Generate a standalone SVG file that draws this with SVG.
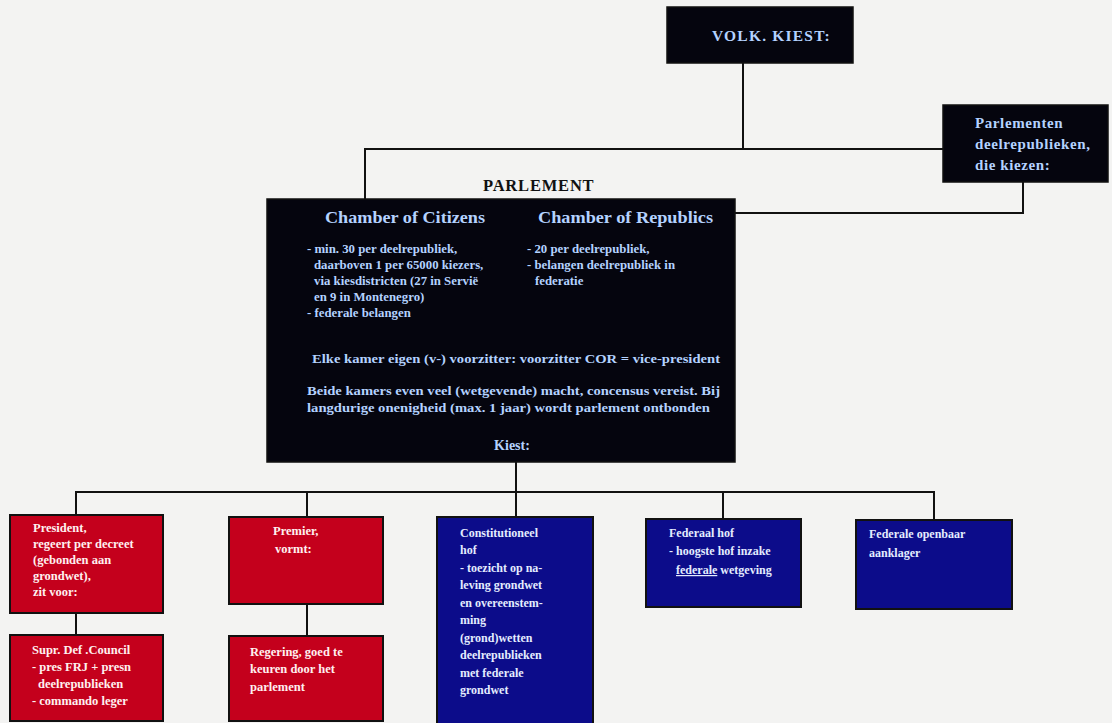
<svg xmlns="http://www.w3.org/2000/svg" width="1112" height="723" viewBox="0 0 1112 723">
<style>
.bg{fill:#f3f3f2}
.blk{fill:#05050e;stroke:#111;stroke-width:1.5}
.red{fill:#c4001c;stroke:#111;stroke-width:2}
.blu{fill:#0c0c8a;stroke:#111;stroke-width:2}
.ln{fill:none;stroke:#111;stroke-width:2}
text{font-family:"Liberation Serif","Times New Roman",serif;font-weight:bold}
.tb{fill:#b4d2ff}
.tr{fill:#fff0f0;font-size:12.5px}
.tu{fill:#e4ecff;font-size:12px}
.hd{font-size:16.5px}
.sm{font-size:12.8px}
</style>
<rect class="bg" x="0" y="0" width="1112" height="723"/>
<g id="connectors">
<line class="ln" x1="743" y1="63" x2="743" y2="149"/>
<polyline class="ln" points="365,200 365,149 943,149"/>
<polyline class="ln" points="1023,182 1023,213 735,213"/>
<line class="ln" x1="516" y1="462" x2="516" y2="518"/>
<polyline class="ln" points="76,515 76,492 934,492 934,520"/>
<line class="ln" x1="307" y1="492" x2="307" y2="517"/>
<line class="ln" x1="723" y1="492" x2="723" y2="519"/>
<line class="ln" x1="76" y1="613" x2="76" y2="635"/>
<line class="ln" x1="307" y1="604" x2="307" y2="636"/>
</g>
<g id="volk">
<rect class="blk" x="667" y="7" width="186" height="56"/>
<text class="tb" x="712" y="41" font-size="15.5" letter-spacing="1.2">VOLK. KIEST:</text>
</g>
<g id="parlementen-deelrepublieken">
<rect class="blk" x="943" y="105" width="165" height="77"/>
<text class="tb" font-size="15" letter-spacing="0.6"><tspan x="975" y="128">Parlementen</tspan><tspan x="975" y="149">deelrepublieken,</tspan><tspan x="975" y="170">die kiezen:</tspan></text>
</g>
<g id="parlement">
<text x="483" y="191" font-size="16.5" fill="#111" letter-spacing="0.8">PARLEMENT</text>
<rect class="blk" x="267" y="199" width="468" height="263"/>
<text class="tb hd" x="325" y="223" textLength="160" lengthAdjust="spacingAndGlyphs">Chamber of Citizens</text>
<text class="tb hd" x="538" y="223" textLength="175" lengthAdjust="spacingAndGlyphs">Chamber of Republics</text>
<text class="tb sm"><tspan x="307" y="253">- min. 30 per deelrepubliek,</tspan><tspan x="314" y="269">daarboven 1  per 65000 kiezers,</tspan><tspan x="314" y="285">via kiesdistricten (27 in Servië</tspan><tspan x="314" y="301">en 9 in Montenegro)</tspan><tspan x="307" y="317">- federale belangen</tspan></text>
<text class="tb sm"><tspan x="527" y="253">- 20 per deelrepubliek,</tspan><tspan x="527" y="269">- belangen deelrepubliek  in</tspan><tspan x="535" y="285">federatie</tspan></text>
<text class="tb sm" x="312" y="363" textLength="408" lengthAdjust="spacingAndGlyphs">Elke kamer eigen (v-) voorzitter: voorzitter COR = vice-president</text>
<text class="tb sm" x="307" y="395" textLength="413" lengthAdjust="spacingAndGlyphs">Beide kamers even veel (wetgevende) macht, concensus vereist. Bij</text>
<text class="tb sm" x="307" y="412" textLength="403" lengthAdjust="spacingAndGlyphs">langdurige onenigheid (max. 1 jaar) wordt parlement ontbonden</text>
<text class="tb" font-size="14" x="512" y="450" text-anchor="middle">Kiest:</text>
</g>
<g id="president">
<rect class="red" x="10" y="515" width="153" height="98"/>
<text class="tr"><tspan x="33" y="532">President,</tspan><tspan x="33" y="548">regeert per decreet</tspan><tspan x="33" y="564">(gebonden aan</tspan><tspan x="33" y="580">grondwet),</tspan><tspan x="33" y="596">zit voor:</tspan></text>
</g>
<g id="supr-def-council">
<rect class="red" x="10" y="635" width="153" height="86"/>
<text class="tr"><tspan x="32" y="654">Supr. Def .Council</tspan><tspan x="32" y="671">- pres FRJ + presn</tspan><tspan x="38" y="688">deelrepublieken</tspan><tspan x="32" y="705">- commando leger</tspan></text>
</g>
<g id="premier">
<rect class="red" x="229" y="517" width="154" height="87"/>
<text class="tr"><tspan x="273" y="535">Premier,</tspan><tspan x="275" y="553">vormt:</tspan></text>
</g>
<g id="regering">
<rect class="red" x="229" y="636" width="154" height="85"/>
<text class="tr"><tspan x="250" y="656">Regering, goed te</tspan><tspan x="250" y="673">keuren door het</tspan><tspan x="250" y="691">parlement</tspan></text>
</g>
<g id="constitutioneel-hof">
<rect class="blu" x="437" y="517" width="156" height="215"/>
<text class="tu"><tspan x="460" y="537">Constitutioneel</tspan><tspan x="460" y="554">hof</tspan><tspan x="460" y="572">- toezicht op na-</tspan><tspan x="460" y="589">leving grondwet</tspan><tspan x="460" y="607">en overeenstem-</tspan><tspan x="460" y="624">ming</tspan><tspan x="460" y="642">(grond)wetten</tspan><tspan x="460" y="659">deelrepublieken</tspan><tspan x="460" y="677">met federale</tspan><tspan x="460" y="694">grondwet</tspan></text>
</g>
<g id="federaal-hof">
<rect class="blu" x="646" y="519" width="155" height="88"/>
<text class="tu"><tspan x="669" y="537">Federaal hof</tspan><tspan x="669" y="555">- hoogste hof inzake</tspan><tspan x="676" y="574" text-decoration="underline">federale</tspan><tspan> wetgeving</tspan></text>
</g>
<g id="federale-openbaar-aanklager">
<rect class="blu" x="856" y="520" width="156" height="89"/>
<text class="tu"><tspan x="869" y="538">Federale openbaar</tspan><tspan x="869" y="557">aanklager</tspan></text>
</g>
</svg>
